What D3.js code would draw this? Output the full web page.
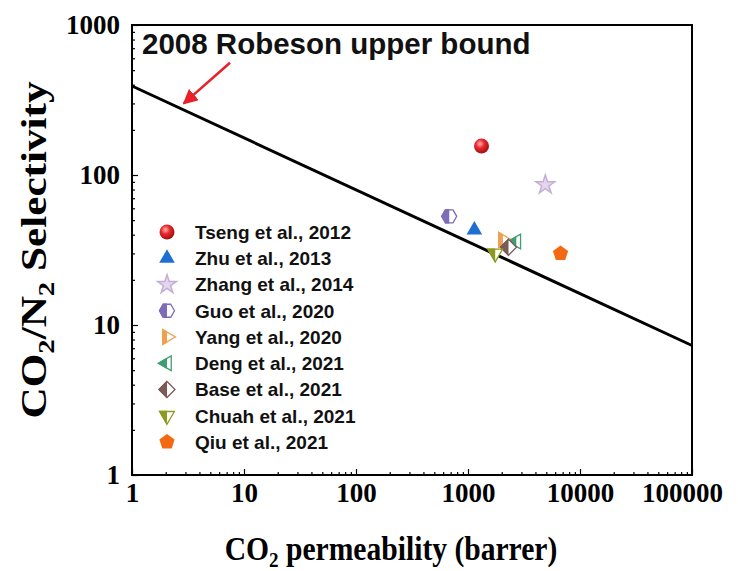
<!DOCTYPE html>
<html lang="en">
<head>
<meta charset="utf-8">
<title>CO2/N2 Robeson plot</title>
<script src="https://d3js.org/d3.v7.min.js"></script>
<style type="text/css">
  body { margin: 0; background: #fff; }
  .frame { fill: none; stroke: #000; stroke-width: 2px; }
  .tick text { font-family: "Liberation Serif", "Times New Roman", serif; font-weight: bold; font-size: 27px; fill: #000; }
  .tick line { stroke: #000; stroke-width: 1.2px; }
  .domain { display: none; }
  .title { font-family: "Liberation Serif", "Times New Roman", serif; font-weight: bold; fill: #000; }
  .legend text { font-family: "Liberation Sans", Arial, sans-serif; font-weight: bold; font-size: 19px; fill: #111; }
  .bound { fill: none; stroke: #000; stroke-width: 3px; }
</style>
</head>
<body>
<script type="text/javascript">

var w = 738;
var h = 571;
var margin = {top: 25, right: 46, bottom: 96, left: 132};
var innerWidth = w - margin.left - margin.right;
var innerHeight = h - margin.top - margin.bottom;

// data
var names = ["Tseng et al., 2012", "Zhu et al., 2013", "Zhang et al., 2014",
             "Guo et al., 2020", "Yang et al., 2020", "Deng et al., 2021",
             "Base et al., 2021", "Chuah et al., 2021", "Qiu et al., 2021"];
var permeability = [1320, 1140, 4900, 680, 2050, 2700, 2300, 1750, 6700];
var selectivity  = [156, 43, 86, 53, 37, 36, 33, 30, 30];
var colors = ["#e3262b", "#1f6fd2", "#c4aed4", "#7d6cb6", "#f0a04e",
              "#3f9e72", "#7b5a58", "#8c9a1e", "#f26912"];
var shapes = ["sphere", "triUp", "star", "hexHalf", "triRightHalf",
              "triLeftHalf", "diamondHalf", "triDownHalf", "pentagon"];

// 2008 Robeson upper bound end points
var boundP = [1, 100000];
var boundS = [392, 7.3];

var xTicks = [1, 10, 100, 1000, 10000, 100000];
var yTicks = [1, 10, 100, 1000];

var svg = d3.select("body").append("svg")
            .attr("width", w)
            .attr("height", h);

var defs = svg.append("defs");

var grad = defs.append("radialGradient")
               .attr("id", "sphere")
               .attr("cx", "40%").attr("cy", "35%").attr("r", "65%");
grad.append("stop").attr("offset", "0%").attr("stop-color", "#ffb0b0");
grad.append("stop").attr("offset", "45%").attr("stop-color", "#e8282c");
grad.append("stop").attr("offset", "100%").attr("stop-color", "#a01015");

defs.append("clipPath").attr("id", "lefthalf")
    .append("rect").attr("x", -20).attr("y", -20).attr("width", 20).attr("height", 40);

var g = svg.append("g")
           .attr("transform", `translate(${margin.left}, ${margin.top})`);

var xScale = d3.scaleLog().domain([1, 100000]).range([0, innerWidth]);
var yScale = d3.scaleLog().domain([1, 1000]).range([innerHeight, 0]);

// minor ticks
function minors(lo, hi) {
  var out = [];
  for (var d = lo; d < hi; d *= 10) {
    for (var k = 2; k < 10; k++) out.push(d * k);
  }
  return out;
}

g.append("g")
 .attr("transform", `translate(0, ${innerHeight})`)
 .call(d3.axisBottom(xScale).tickValues(minors(1, 100000)).tickSize(-3))
 .selectAll("text").remove();
var xAxisG = g.append("g")
 .attr("transform", `translate(0, ${innerHeight})`)
 .call(d3.axisBottom(xScale).tickValues(xTicks).tickSize(-6).tickPadding(8).tickFormat(d3.format("d")));
// last label nudged in so it stays on the page
xAxisG.selectAll(".tick text").filter(d => d === 100000).attr("dx", -10);

g.append("g")
 .call(d3.axisLeft(yScale).tickValues(minors(1, 1000)).tickSize(-3))
 .selectAll("text").remove();
g.append("g")
 .call(d3.axisLeft(yScale).tickValues(yTicks).tickSize(-6).tickPadding(12).tickFormat(d3.format("d")));

g.append("rect")
 .attr("class", "frame")
 .attr("width", innerWidth)
 .attr("height", innerHeight);

// upper bound line
var lineGen = d3.line()
                .x(d => xScale(d[0]))
                .y(d => yScale(d[1]));

g.append("path")
 .datum(d3.zip(boundP, boundS))
 .attr("class", "bound")
 .attr("d", lineGen);

// annotation
var arrowFrom = [7.5, 560];
var arrowTo = [2.9, 300];
defs.append("marker")
    .attr("id", "arrowhead")
    .attr("viewBox", "0 0 10 10")
    .attr("refX", 9).attr("refY", 5)
    .attr("markerWidth", 6).attr("markerHeight", 6)
    .attr("orient", "auto")
    .append("path").attr("d", "M0,0 L10,5 L0,10 Z").attr("fill", "#e8202a");

g.append("line")
 .attr("x1", xScale(arrowFrom[0])).attr("y1", yScale(arrowFrom[1]))
 .attr("x2", xScale(arrowTo[0])).attr("y2", yScale(arrowTo[1]))
 .attr("stroke", "#e8202a").attr("stroke-width", 2.5)
 .attr("marker-end", "url(#arrowhead)");

g.append("text")
 .attr("x", xScale(1) + 10)
 .attr("y", yScale(640))
 .attr("font-family", "Liberation Sans, Arial, sans-serif")
 .attr("font-weight", "bold")
 .attr("font-size", "29.5px")
 .attr("fill", "#111")
 .text("2008 Robeson upper bound");

// marker shapes
function poly(n, r, rot) {
  var pts = d3.range(n).map(function(i) {
    var a = rot + i * 2 * Math.PI / n;
    return [r * Math.sin(a), -r * Math.cos(a)];
  });
  return "M" + pts.join("L") + "Z";
}

function drawMarker(sel, shape, color) {
  var half = false, d;
  switch (shape) {
    case "sphere":
      sel.append("circle").attr("r", 7.5).attr("fill", "url(#sphere)");
      return;
    case "triUp": d = poly(3, 9, 0); break;
    case "star": d = d3.symbol().type(d3.symbolStar).size(110)(); break;
    case "pentagon": d = poly(5, 8, 0); break;
    case "hexHalf": d = poly(6, 7.5, Math.PI / 6); half = true; break;
    case "triRightHalf": d = poly(3, 8.5, Math.PI / 2); half = true; break;
    case "triLeftHalf": d = poly(3, 8.5, -Math.PI / 2); half = true; break;
    case "diamondHalf": d = poly(4, 8, 0); half = true; break;
    case "triDownHalf": d = poly(3, 8.5, Math.PI); half = true; break;
  }
  if (shape === "star") {
    sel.append("path").attr("d", d).attr("fill", "#e4d6ec")
       .attr("stroke", color).attr("stroke-width", 1.5);
    return;
  }
  if (!half) {
    sel.append("path").attr("d", d).attr("fill", color);
    return;
  }
  sel.append("path").attr("d", d).attr("fill", "#fff")
     .attr("stroke", color).attr("stroke-width", 1.3);
  sel.append("path").attr("d", d).attr("fill", color)
     .attr("stroke", color).attr("stroke-width", 1.3)
     .attr("clip-path", "url(#lefthalf)");
}

var idx = d3.range(names.length);

// points
g.selectAll("g.pt")
 .data(idx)
 .enter().append("g")
 .attr("class", "pt")
 .attr("transform", i => `translate(${xScale(permeability[i])}, ${yScale(selectivity[i])})`)
 .each(function(i) { drawMarker(d3.select(this), shapes[i], colors[i]); });

// legend
var legend = g.append("g").attr("class", "legend")
              .attr("transform", "translate(35, 207)");
var rows = legend.selectAll("g.row")
                 .data(idx)
                 .enter().append("g")
                 .attr("class", "row")
                 .attr("transform", i => `translate(0, ${i * 26.25})`);
rows.each(function(i) { drawMarker(d3.select(this), shapes[i], colors[i]); });
rows.append("text")
    .attr("x", 28)
    .attr("dy", "0.36em")
    .text(i => names[i]);

// axis titles
var xt = svg.append("text")
            .attr("class", "title")
            .attr("text-anchor", "middle")
            .attr("font-size", "34px")
            .attr("transform", `translate(${margin.left + innerWidth / 2 - 21}, 560) scale(0.87, 1)`);
xt.append("tspan").text("CO");
xt.append("tspan").attr("dy", 7).attr("font-size", "22px").text("2");
xt.append("tspan").attr("dy", -7).text(" permeability (barrer)");

var yt = svg.append("text")
            .attr("class", "title")
            .attr("text-anchor", "middle")
            .attr("font-size", "36px")
            .attr("transform", `translate(46, ${margin.top + innerHeight / 2}) rotate(-90) scale(1.2, 1)`);
yt.append("tspan").text("CO");
yt.append("tspan").attr("dy", 8).attr("font-size", "24px").text("2");
yt.append("tspan").attr("dy", -8).text("/N");
yt.append("tspan").attr("dy", 8).attr("font-size", "24px").text("2");
yt.append("tspan").attr("dy", -8).text(" Selectivity");

</script>
</body>
</html>
